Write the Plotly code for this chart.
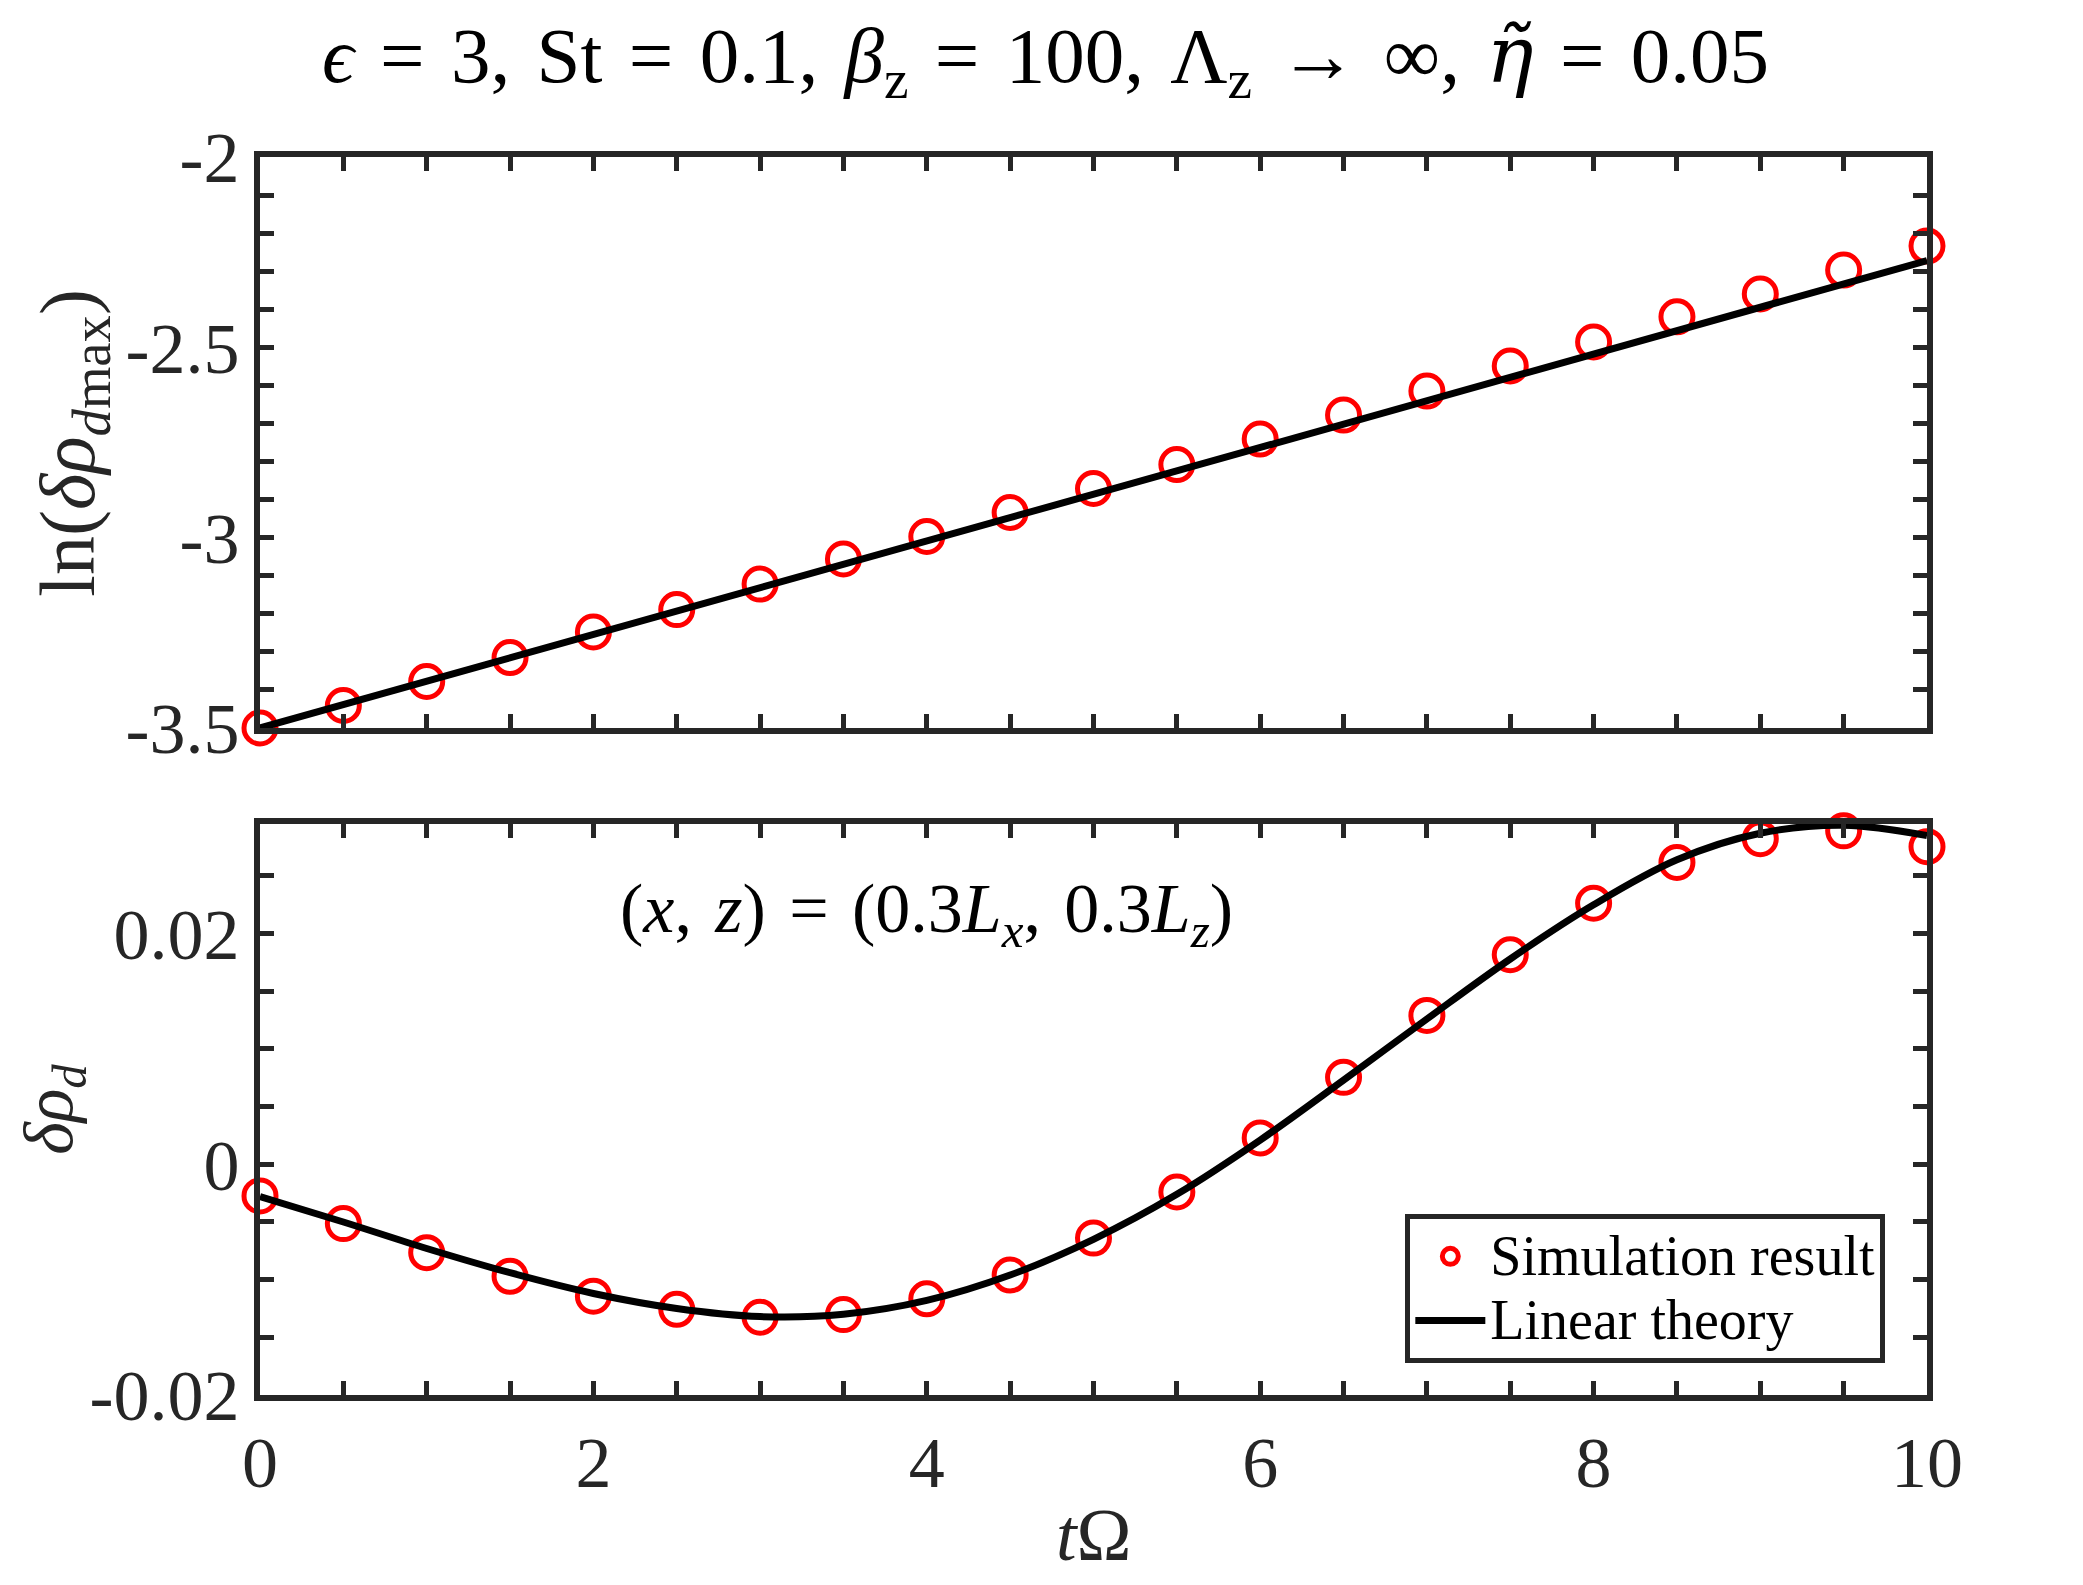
import plotly.graph_objects as go

# ---- data ----
t_sim = [0, 0.5, 1, 1.5, 2, 2.5, 3, 3.5, 4, 4.5, 5, 5.5, 6, 6.5, 7, 7.5, 8, 8.5, 9, 9.5, 10]
ln_sim = [-3.500, -3.441, -3.378, -3.315, -3.248, -3.189, -3.122, -3.056, -2.997, -2.934, -2.871,
          -2.808, -2.741, -2.678, -2.615, -2.549, -2.486, -2.420, -2.360, -2.297, -2.234]
t_lin_top = [0, 10]
ln_lin = [-3.500, -2.272]

rho_sim = [-0.00274, -0.00514, -0.00766, -0.00971, -0.01143, -0.01257, -0.01326, -0.01303, -0.01166,
           -0.00960, -0.00640, -0.00240, 0.00229, 0.00754, 0.01291, 0.01817, 0.02263, 0.02617,
           0.02823, 0.02891, 0.02754]
t_lin = [0, 0.5, 1, 1.5, 2, 2.5, 3, 3.5, 4, 4.5, 5, 5.5, 6, 6.5, 7, 7.5, 8, 8.5, 9, 9.5, 10]
rho_lin = [-0.0028, -0.0050, -0.0073, -0.0094, -0.0112, -0.0125, -0.0132, -0.0130, -0.0118, -0.0096,
           -0.0065, -0.0026, 0.0021, 0.0073, 0.0126, 0.0178, 0.0225, 0.0264, 0.0287, 0.0294, 0.0285]

x_ticks = [0, 0.5, 1, 1.5, 2, 2.5, 3, 3.5, 4, 4.5, 5, 5.5, 6, 6.5, 7, 7.5, 8, 8.5, 9, 9.5, 10]
x_labels = ["0", "", "", "", "2", "", "", "", "4", "", "", "", "6", "", "", "", "8", "", "", "", "10"]
y1_ticks = [-3.5, -3.4, -3.3, -3.2, -3.1, -3.0, -2.9, -2.8, -2.7, -2.6, -2.5, -2.4, -2.3, -2.2, -2.1, -2.0]
y1_labels = ["-3.5", "", "", "", "", "-3", "", "", "", "", "-2.5", "", "", "", "", "-2"]
y2_ticks = [-0.02, -0.015, -0.01, -0.005, 0, 0.005, 0.01, 0.015, 0.02, 0.025]
y2_labels = ["-0.02", "", "", "", "0", "", "", "", "0.02", ""]

FONT = "Liberation Serif"
AX = "#262626"
SP = "\u2004"  # extra math-like spacing

marker_style = dict(symbol="circle-open", size=32, color="red", line=dict(width=5))

fig = go.Figure()
fig.add_trace(go.Scatter(x=t_sim, y=ln_sim, mode="markers", marker=marker_style,
                         xaxis="x", yaxis="y", showlegend=False, cliponaxis=False))
fig.add_trace(go.Scatter(x=t_lin_top, y=ln_lin, mode="lines", line=dict(color="black", width=7),
                         xaxis="x", yaxis="y", showlegend=False, cliponaxis=False))
fig.add_trace(go.Scatter(x=t_sim, y=rho_sim, mode="markers",
                         name="<span style='font-size:56px'>Simulation result</span>",
                         marker=marker_style, xaxis="x2", yaxis="y2", cliponaxis=False))
fig.add_trace(go.Scatter(x=t_lin, y=rho_lin, mode="lines",
                         name="<span style='font-size:56px'>Linear theory</span>", line_shape="spline",
                         line=dict(color="black", width=7), xaxis="x2", yaxis="y2", cliponaxis=False))

common_ax = dict(showline=True, linecolor=AX, linewidth=6, mirror="ticks", ticks="inside",
                 ticklen=14, tickwidth=5, tickcolor=AX, showgrid=False, zeroline=False,
                 tickfont=dict(family=FONT, size=72, color=AX))

title_txt = (f"<i>ϵ</i>{SP}={SP}3,{SP}St{SP}={SP}0.1,{SP}<i>β</i><sub>z</sub>{SP}={SP}100,{SP}"
             f"Λ<sub>z</sub>{SP}→{SP}∞,{SP}<span style='font-family:DejaVu Serif'><i>η̃</i></span>{SP}={SP}0.05")

W, H = 2075, 1577  # page body adds an 8px margin

fig.update_layout(
    width=W, height=H,
    margin=dict(l=252, r=156, t=149, b=190),
    paper_bgcolor="white", plot_bgcolor="white",
    font=dict(family=FONT, color=AX),
    xaxis=dict(domain=[0, 1], range=[0, 10], anchor="y", tickvals=x_ticks,
               ticktext=[""] * len(x_ticks), **common_ax),
    yaxis=dict(domain=[0.5388, 1], range=[-3.5, -2.0], anchor="x", tickvals=y1_ticks,
               ticktext=y1_labels, **common_ax),
    xaxis2=dict(domain=[0, 1], range=[0, 10], anchor="y2", tickvals=x_ticks,
                ticktext=x_labels, **common_ax),
    yaxis2=dict(domain=[0, 0.4612], range=[-0.02, 0.0295], anchor="x2", tickvals=y2_ticks,
                ticktext=y2_labels, **common_ax),
    legend=dict(x=0.975, y=0.146, xanchor="right", yanchor="top", bgcolor="white",
                bordercolor=AX, borderwidth=5, font=dict(family=FONT, size=47, color="black"),
                itemwidth=70, tracegroupgap=0),
    title=dict(text=title_txt,
               x=0.5, xanchor="center", y=1 - 46 / H, yanchor="middle", yref="container",
               font=dict(family=FONT, size=79, color="black")),
)

fig.add_annotation(text="<i>t</i>Ω", xref="paper", yref="paper", x=0.5, y=-0.113,
                   xanchor="center", yanchor="middle", showarrow=False,
                   font=dict(family=FONT, size=74, color=AX))
fig.add_annotation(text="ln(<i>δρ</i><sub><i>d</i>max</sub>)", xref="paper", yref="paper",
                   x=-0.112, y=0.7694, textangle=-90, xanchor="center", yanchor="middle",
                   showarrow=False, font=dict(family=FONT, size=78, color=AX))
fig.add_annotation(text="<i>δρ</i><sub><i>d</i></sub>", xref="paper", yref="paper",
                   x=-0.124, y=0.2306, textangle=-90, xanchor="center", yanchor="middle",
                   showarrow=False, font=dict(family=FONT, size=70, color=AX))
fig.add_annotation(text=f"(<i>x</i>,{SP}<i>z</i>){SP}={SP}(0.3<i>L</i><sub><i>x</i></sub>,{SP}0.3<i>L</i><sub><i>z</i></sub>)",
                   xref="x2", yref="y2", x=4.0, y=0.0217, xanchor="center", yanchor="middle",
                   showarrow=False, font=dict(family=FONT, size=70, color="black"))

fig.write_html("out.html")
